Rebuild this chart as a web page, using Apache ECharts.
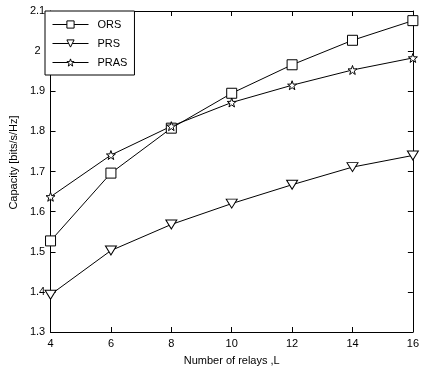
<!DOCTYPE html>
<html>
<head>
<meta charset="utf-8">
<script src="https://cdn.jsdelivr.net/npm/echarts@6/dist/echarts.min.js"></script>
<style>
  html, body { margin: 0; padding: 0; background: #fff; }
  #chart { width: 422px; height: 371px; }
</style>
</head>
<body>
<div id="chart"></div>
<script>
// relay counts on the x axis
var relays = [4, 6, 8, 10, 12, 14, 16];
// capacity values
var ors = [1.527, 1.696, 1.808, 1.895, 1.966, 2.027, 2.076];
var prs = [1.393, 1.503, 1.568, 1.620, 1.667, 1.711, 1.740];
var pras = [1.637, 1.741, 1.813, 1.872, 1.915, 1.953, 1.983];

var font = 'Liberation Sans, Arial, sans-serif';
var starPath = 'path://M0,-10 L2.35,-3.24 9.51,-3.09 3.8,1.24 5.88,8.09 0,4 -5.88,8.09 -3.8,1.24 -9.51,-3.09 -2.35,-3.24Z';
var triDown = 'path://M0,0 L10,0 L5,9 Z';

var myChart = echarts.init(document.getElementById('chart'));

function pairs(vals) {
  return relays.map(function (x, i) { return [x, vals[i]]; });
}

var frameAxis = {
  axisLine: { show: true, lineStyle: { color: '#000', width: 1 } },
  axisTick: { show: true, inside: true, length: 5, lineStyle: { color: '#000' } },
  splitLine: { show: false }
};

var option = {
  animation: false,
  backgroundColor: '#fff',
  textStyle: { fontFamily: font, color: '#000' },
  grid: { left: 45, right: 6, top: 11, bottom: 36 },
  legend: {
    left: 45,
    top: 11,
    orient: 'vertical',
    backgroundColor: '#fff',
    borderColor: '#000',
    borderWidth: 1,
    borderRadius: 0,
    padding: [8, 7, 7, 7],
    itemWidth: 36,
    itemHeight: 9,
    itemGap: 8,
    lineStyle: { width: 1, color: '#000' },
    itemStyle: { color: '#fff', borderColor: '#000', borderWidth: 1 },
    textStyle: { fontFamily: font, fontSize: 11, color: '#000', padding: [0, 0, 0, 4] },
    data: ['ORS', 'PRS', 'PRAS']
  },
  xAxis: [
    Object.assign({}, frameAxis, {
      type: 'value', min: 4, max: 16, interval: 2,
      name: 'Number of relays ,L',
      nameLocation: 'middle', nameGap: 23,
      nameTextStyle: { fontFamily: font, fontSize: 11, color: '#000' },
      axisLabel: { fontFamily: font, fontSize: 11, color: '#000', margin: 6 }
    }),
    Object.assign({}, frameAxis, {
      type: 'value', min: 4, max: 16, interval: 2, position: 'top',
      axisLabel: { show: false }
    })
  ],
  yAxis: [
    Object.assign({}, frameAxis, {
      type: 'value', min: 1.3, max: 2.1, interval: 0.1,
      name: 'Capacity [bits/s/Hz]',
      nameLocation: 'middle', nameGap: 30,
      nameTextStyle: { fontFamily: font, fontSize: 11, color: '#000', padding: [0, 0, 0, 18] },
      axisLabel: {
        fontFamily: font, fontSize: 11, color: '#000', margin: 13, align: 'center',
        formatter: function (v) { return String(Math.round(v * 10) / 10); }
      }
    }),
    Object.assign({}, frameAxis, {
      type: 'value', min: 1.3, max: 2.1, interval: 0.1, position: 'right',
      axisLabel: { show: false }
    })
  ],
  series: [
    { name: 'ORS', data: pairs(ors), symbol: 'rect', symbolSize: 10 },
    { name: 'PRS', data: pairs(prs), symbol: triDown, symbolSize: [11, 9] },
    { name: 'PRAS', data: pairs(pras), symbol: starPath, symbolSize: 9 }
  ].map(function (obj) {
    return Object.assign({}, obj, {
      type: 'line',
      showAllSymbol: true,
      color: '#000',
      lineStyle: { color: '#000', width: 1 },
      itemStyle: { color: '#fff', borderColor: '#000', borderWidth: 1 }
    });
  })
};

myChart.setOption(option);
</script>
</body>
</html>
